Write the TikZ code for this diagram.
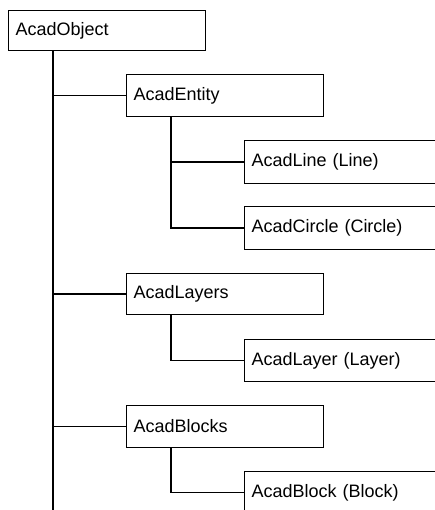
\documentclass[tikz,border=0pt]{standalone}
\usepackage{fontspec}
\setmainfont{Liberation Sans}
\begin{document}
\begin{tikzpicture}[x=1pt,y=-1pt,
  cls/.style={draw=black,line width=1pt,anchor=north west,inner xsep=7pt,inner ysep=0pt,
    align=left,font=\fontsize{18}{20}\selectfont,text=black},
  wbox/.style={cls,text width=183pt},
  rbox/.style={cls,text width=220pt},
  conn/.style={draw=black,line width=1.7pt}]
\useasboundingbox (0,0) rectangle (435,510);
\clip (0,0) rectangle (435,510);
\node[wbox,minimum height=40pt] (obj) at (8,10) {AcadObject};
\node[wbox,minimum height=42pt] (ent) at (126,74) {AcadEntity};
\node[rbox,minimum height=43pt] (line) at (244,140) {AcadLine (Line)};
\node[rbox,minimum height=43pt] (circ) at (244,206) {AcadCircle (Circle)};
\node[wbox,minimum height=41pt] (lays) at (126,273) {AcadLayers};
\node[rbox,minimum height=42pt] (lay) at (244,339) {AcadLayer (Layer)};
\node[wbox,minimum height=42pt] (blks) at (126,405) {AcadBlocks};
\node[rbox,minimum height=42pt] (blk) at (244,471) {AcadBlock (Block)};
\coordinate (t0) at ([xshift=45pt]obj.south west);
\coordinate (tend) at (53,520);
\coordinate (e0) at ([xshift=45pt]ent.south west);
\coordinate (l0) at ([xshift=45pt]lays.south west);
\coordinate (b0) at ([xshift=45pt]blks.south west);
\draw[conn] (t0) -- (t0 |- tend);
\draw[conn] (t0 |- ent.west) -- (ent.west);
\draw[conn] (t0 |- lays.west) -- (lays.west);
\draw[conn] (t0 |- blks.west) -- (blks.west);
\draw[conn] (e0) -- (e0 |- circ.west) -- (circ.west);
\draw[conn] (e0 |- line.west) -- (line.west);
\draw[conn] (l0) -- (l0 |- lay.west) -- (lay.west);
\draw[conn] (b0) -- (b0 |- blk.west) -- (blk.west);
\end{tikzpicture}
\end{document}
